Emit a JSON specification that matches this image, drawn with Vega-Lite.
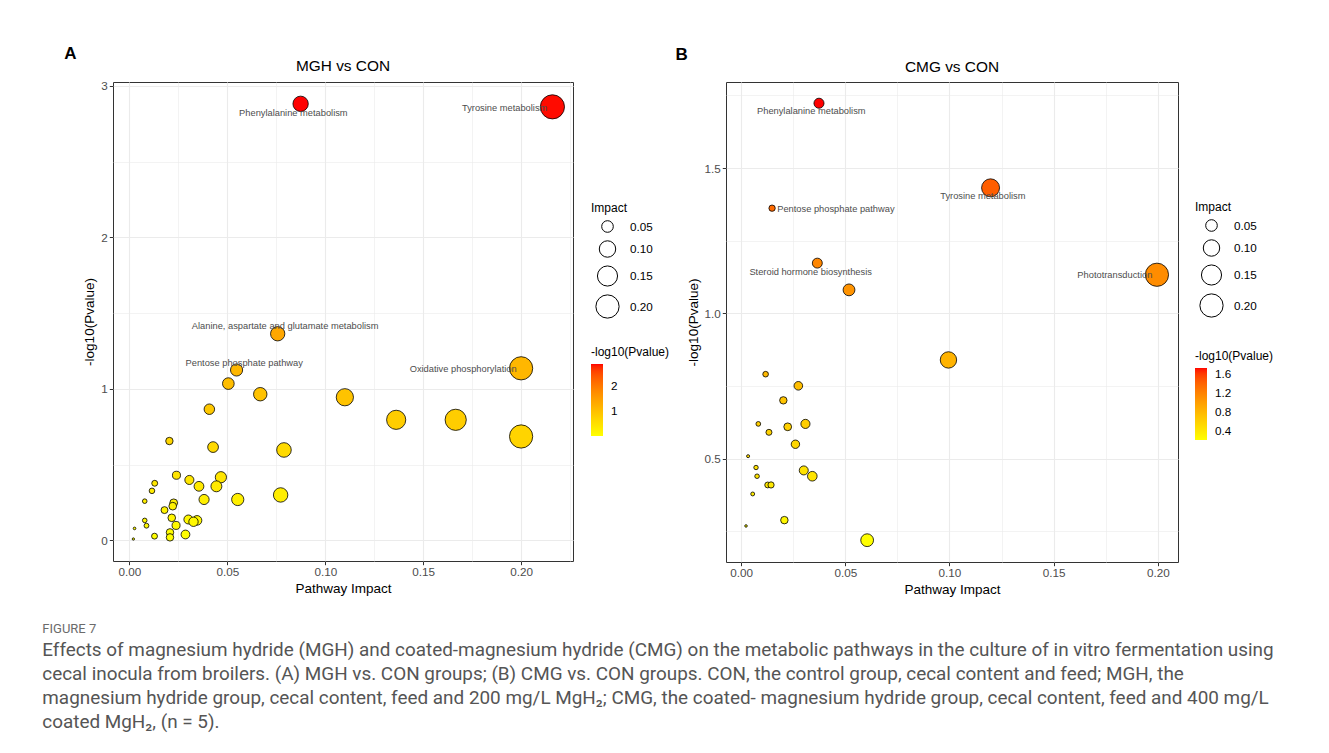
{
  "$schema": "https://vega.github.io/schema/vega-lite/v6.json",
  "background": "white",
  "padding": {"left": 42, "top": 44, "right": 5, "bottom": 5},
  "datasets": {
    "a_points": [
      {"impact": 0.0874, "logp": 2.882}, {"impact": 0.216, "logp": 2.862}, {"impact": 0.0757, "logp": 1.364},
      {"impact": 0.0547, "logp": 1.125}, {"impact": 0.0505, "logp": 1.035}, {"impact": 0.0668, "logp": 0.965},
      {"impact": 0.110, "logp": 0.945}, {"impact": 0.200, "logp": 1.136}, {"impact": 0.0408, "logp": 0.866},
      {"impact": 0.1362, "logp": 0.796}, {"impact": 0.1666, "logp": 0.796}, {"impact": 0.200, "logp": 0.686},
      {"impact": 0.0204, "logp": 0.656}, {"impact": 0.0427, "logp": 0.616}, {"impact": 0.0789, "logp": 0.597},
      {"impact": 0.024, "logp": 0.43}, {"impact": 0.0306, "logp": 0.399}, {"impact": 0.0467, "logp": 0.417},
      {"impact": 0.0355, "logp": 0.357}, {"impact": 0.0444, "logp": 0.357}, {"impact": 0.0129, "logp": 0.377},
      {"impact": 0.0115, "logp": 0.327}, {"impact": 0.0381, "logp": 0.27}, {"impact": 0.0553, "logp": 0.27},
      {"impact": 0.0772, "logp": 0.30}, {"impact": 0.0078, "logp": 0.259}, {"impact": 0.0226, "logp": 0.248},
      {"impact": 0.0221, "logp": 0.226}, {"impact": 0.0179, "logp": 0.2}, {"impact": 0.0216, "logp": 0.149},
      {"impact": 0.0301, "logp": 0.138}, {"impact": 0.0345, "logp": 0.132}, {"impact": 0.0327, "logp": 0.123},
      {"impact": 0.0078, "logp": 0.132}, {"impact": 0.0087, "logp": 0.097}, {"impact": 0.0238, "logp": 0.099},
      {"impact": 0.0207, "logp": 0.053}, {"impact": 0.0286, "logp": 0.039}, {"impact": 0.0128, "logp": 0.028},
      {"impact": 0.0207, "logp": 0.020}, {"impact": 0.0026, "logp": 0.079}, {"impact": 0.002, "logp": 0.009}
    ],
    "a_labels": [
      {"label": "Phenylalanine metabolism", "lx": 0.0837, "ly": 2.824},
      {"label": "Tyrosine metabolism", "lx": 0.1916, "ly": 2.857},
      {"label": "Alanine, aspartate and glutamate metabolism", "lx": 0.0795, "ly": 1.412},
      {"label": "Pentose phosphate pathway", "lx": 0.0586, "ly": 1.171},
      {"label": "Oxidative phosphorylation", "lx": 0.1704, "ly": 1.132}
    ],
    "b_points": [
      {"impact": 0.0374, "logp": 1.723}, {"impact": 0.1197, "logp": 1.432}, {"impact": 0.0149, "logp": 1.362},
      {"impact": 0.0366, "logp": 1.173}, {"impact": 0.0518, "logp": 1.081}, {"impact": 0.1995, "logp": 1.133},
      {"impact": 0.0995, "logp": 0.840}, {"impact": 0.0118, "logp": 0.791}, {"impact": 0.0275, "logp": 0.751},
      {"impact": 0.0203, "logp": 0.701}, {"impact": 0.0083, "logp": 0.620}, {"impact": 0.0224, "logp": 0.610},
      {"impact": 0.0309, "logp": 0.620}, {"impact": 0.0134, "logp": 0.591}, {"impact": 0.0261, "logp": 0.550},
      {"impact": 0.0034, "logp": 0.509}, {"impact": 0.0072, "logp": 0.470}, {"impact": 0.0301, "logp": 0.460},
      {"impact": 0.0342, "logp": 0.440}, {"impact": 0.0077, "logp": 0.440}, {"impact": 0.0128, "logp": 0.410},
      {"impact": 0.0144, "logp": 0.410}, {"impact": 0.0056, "logp": 0.379}, {"impact": 0.0208, "logp": 0.289},
      {"impact": 0.0024, "logp": 0.269}, {"impact": 0.0605, "logp": 0.220}
    ],
    "b_labels": [
      {"label": "Phenylalanine metabolism", "lx": 0.0337, "ly": 1.695},
      {"label": "Tyrosine metabolism", "lx": 0.116, "ly": 1.405},
      {"label": "Pentose phosphate pathway", "lx": 0.0455, "ly": 1.360},
      {"label": "Steroid hormone biosynthesis", "lx": 0.0334, "ly": 1.144},
      {"label": "Phototransduction", "lx": 0.1793, "ly": 1.131}
    ]
  },
  "title": {
    "text": "FIGURE 7",
    "subtitle": [
      "Effects of magnesium hydride (MGH) and coated-magnesium hydride (CMG) on the metabolic pathways in the culture of in vitro fermentation using",
      "cecal inocula from broilers. (A) MGH vs. CON groups; (B) CMG vs. CON groups. CON, the control group, cecal content and feed; MGH, the",
      "magnesium hydride group, cecal content, feed and 200 mg/L MgH₂; CMG, the coated- magnesium hydride group, cecal content, feed and 400 mg/L",
      "coated MgH₂, (n = 5)."
    ],
    "orient": "bottom",
    "anchor": "start",
    "frame": "bounds",
    "offset": 27,
    "dx": -22,
    "font": "Roboto",
    "fontSize": 13,
    "fontWeight": "normal",
    "color": "#6b6b6b",
    "subtitleFont": "Roboto",
    "subtitleFontSize": 18.9,
    "subtitleColor": "#555555",
    "subtitleLineHeight": 24,
    "subtitlePadding": 5
  },
  "resolve": {
    "scale": {"color": "independent", "size": "independent"},
    "legend": {"color": "independent", "size": "independent"}
  },
  "hconcat": [
    {
      "title": {"text": "A", "anchor": "start", "frame": "bounds", "fontSize": 17, "fontWeight": "bold", "offset": -4.5, "dx": -18},
      "vconcat": [
        {
          "title": {"text": "MGH vs CON", "fontSize": 15.4, "fontWeight": "normal", "offset": 6.7},
          "width": 460,
          "height": 479,
          "layer": [
            {
              "data": {"name": "a_points"},
              "mark": {"type": "circle", "stroke": "black", "strokeWidth": 0.8, "opacity": 1},
              "encoding": {
                "x": {"field": "impact", "type": "quantitative", "title": "Pathway Impact",
                  "scale": {"domain": [-0.0084, 0.2265], "nice": false, "zero": false},
                  "axis": {
                    "values": [0, 0.025, 0.05, 0.075, 0.1, 0.125, 0.15, 0.175, 0.2, 0.225],
                    "labelExpr": "abs(datum.value*20-round(datum.value*20))<0.01 ? format(datum.value,'.2f') : ''",
                    "tickColor": {"condition": {"test": "abs(datum.value*20-round(datum.value*20))>0.01", "value": "transparent"}, "value": "#333333"},
                    "gridWidth": {"condition": {"test": "abs(datum.value*20-round(datum.value*20))>0.01", "value": 0.6}, "value": 1.1}
                  }},
                "y": {"field": "logp", "type": "quantitative", "title": "-log10(Pvalue)",
                  "scale": {"domain": [-0.136, 3.026], "nice": false, "zero": false},
                  "axis": {
                    "values": [0, 0.5, 1, 1.5, 2, 2.5, 3],
                    "labelExpr": "abs(datum.value-round(datum.value))<0.01 ? format(datum.value,'d') : ''",
                    "tickColor": {"condition": {"test": "abs(datum.value-round(datum.value))>0.01", "value": "transparent"}, "value": "#333333"},
                    "gridWidth": {"condition": {"test": "abs(datum.value-round(datum.value))>0.01", "value": 0.6}, "value": 1.1}
                  }},
                "size": {"field": "impact", "type": "quantitative", "title": "Impact",
                  "scale": {"type": "linear", "domain": [0, 0.216], "range": [0, 583]},
                  "legend": {"values": [0.05, 0.1, 0.15, 0.2], "format": ".2f", "orient": "none", "legendX": 478, "legendY": 121,
                    "symbolFillColor": "white", "symbolStrokeColor": "black", "symbolStrokeWidth": 1,
                    "symbolOffset": 4, "labelOffset": 10, "rowPadding": 3}},
                "color": {"field": "logp", "type": "quantitative", "title": "-log10(Pvalue)",
                  "scale": {"type": "linear", "domain": [0.009, 2.882], "range": ["#FFFF00", "#FF0000"], "interpolate": "lab"},
                  "legend": {"values": [1, 2], "format": "d", "orient": "none", "legendX": 478, "legendY": 265,
                    "gradientLength": 72, "gradientThickness": 12, "gradientStrokeWidth": 0, "labelOffset": 8}}
              }
            },
            {
              "data": {"name": "a_labels"},
              "mark": {"type": "text", "fontSize": 9.3, "color": "#4D4D4D", "baseline": "middle", "align": "center"},
              "encoding": {
                "x": {"field": "lx", "type": "quantitative"},
                "y": {"field": "ly", "type": "quantitative"},
                "text": {"field": "label"}
              }
            }
          ]
        }
      ]
    },
    {
      "title": {"text": "B", "anchor": "start", "frame": "bounds", "fontSize": 17, "fontWeight": "bold", "offset": -4.5, "dx": -10},
      "vconcat": [
        {
          "title": {"text": "CMG vs CON", "fontSize": 15.4, "fontWeight": "normal", "offset": 6.7},
          "width": 452,
          "height": 480,
          "layer": [
            {
              "data": {"name": "b_points"},
              "mark": {"type": "circle", "stroke": "black", "strokeWidth": 0.8, "opacity": 1},
              "encoding": {
                "x": {"field": "impact", "type": "quantitative", "title": "Pathway Impact",
                  "scale": {"domain": [-0.0072, 0.2096], "nice": false, "zero": false},
                  "axis": {
                    "values": [0, 0.025, 0.05, 0.075, 0.1, 0.125, 0.15, 0.175, 0.2],
                    "labelExpr": "abs(datum.value*20-round(datum.value*20))<0.01 ? format(datum.value,'.2f') : ''",
                    "tickColor": {"condition": {"test": "abs(datum.value*20-round(datum.value*20))>0.01", "value": "transparent"}, "value": "#333333"},
                    "gridWidth": {"condition": {"test": "abs(datum.value*20-round(datum.value*20))>0.01", "value": 0.6}, "value": 1.1}
                  }},
                "y": {"field": "logp", "type": "quantitative", "title": "-log10(Pvalue)",
                  "scale": {"domain": [0.145, 1.796], "nice": false, "zero": false},
                  "axis": {
                    "values": [0.25, 0.5, 0.75, 1, 1.25, 1.5, 1.75],
                    "labelExpr": "abs(datum.value*2-round(datum.value*2))<0.01 ? format(datum.value,'.1f') : ''",
                    "tickColor": {"condition": {"test": "abs(datum.value*2-round(datum.value*2))>0.01", "value": "transparent"}, "value": "#333333"},
                    "gridWidth": {"condition": {"test": "abs(datum.value*2-round(datum.value*2))>0.01", "value": 0.6}, "value": 1.1}
                  }},
                "size": {"field": "impact", "type": "quantitative", "title": "Impact",
                  "scale": {"type": "linear", "domain": [0, 0.2], "range": [0, 540]},
                  "legend": {"values": [0.05, 0.1, 0.15, 0.2], "format": ".2f", "orient": "none", "legendX": 469, "legendY": 120,
                    "symbolFillColor": "white", "symbolStrokeColor": "black", "symbolStrokeWidth": 1,
                    "symbolOffset": 4, "labelOffset": 10, "rowPadding": 3}},
                "color": {"field": "logp", "type": "quantitative", "title": "-log10(Pvalue)",
                  "scale": {"type": "linear", "domain": [0.22, 1.723], "range": ["#FFFF00", "#FF0000"], "interpolate": "lab"},
                  "legend": {"values": [0.4, 0.8, 1.2, 1.6], "format": ".1f", "orient": "none", "legendX": 469, "legendY": 269,
                    "gradientLength": 72, "gradientThickness": 12, "gradientStrokeWidth": 0, "labelOffset": 8}}
              }
            },
            {
              "data": {"name": "b_labels"},
              "mark": {"type": "text", "fontSize": 9.3, "color": "#4D4D4D", "baseline": "middle", "align": "center"},
              "encoding": {
                "x": {"field": "lx", "type": "quantitative"},
                "y": {"field": "ly", "type": "quantitative"},
                "text": {"field": "label"}
              }
            }
          ]
        }
      ]
    }
  ],
  "spacing": 5,
  "config": {
    "font": "Liberation Sans",
    "view": {"stroke": "#333333", "strokeWidth": 1},
    "axis": {
      "domain": false,
      "gridColor": "#EBEBEB",
      "tickSize": 3.7,
      "tickWidth": 1,
      "labelColor": "#4D4D4D",
      "labelFontSize": 11.7,
      "labelPadding": 2,
      "labelFlush": false,
      "labelOverlap": false,
      "titleFontSize": 13.5,
      "titleFontWeight": "normal",
      "titleColor": "black"
    },
    "axisY": {"titlePadding": 4},
    "axisX": {"titlePadding": 3},
    "legend": {
      "titleFontSize": 12,
      "titleFontWeight": "normal",
      "titleColor": "black",
      "labelFontSize": 11.7,
      "labelColor": "black"
    },
    "title": {"color": "black", "font": "Liberation Sans"}
  }
}
